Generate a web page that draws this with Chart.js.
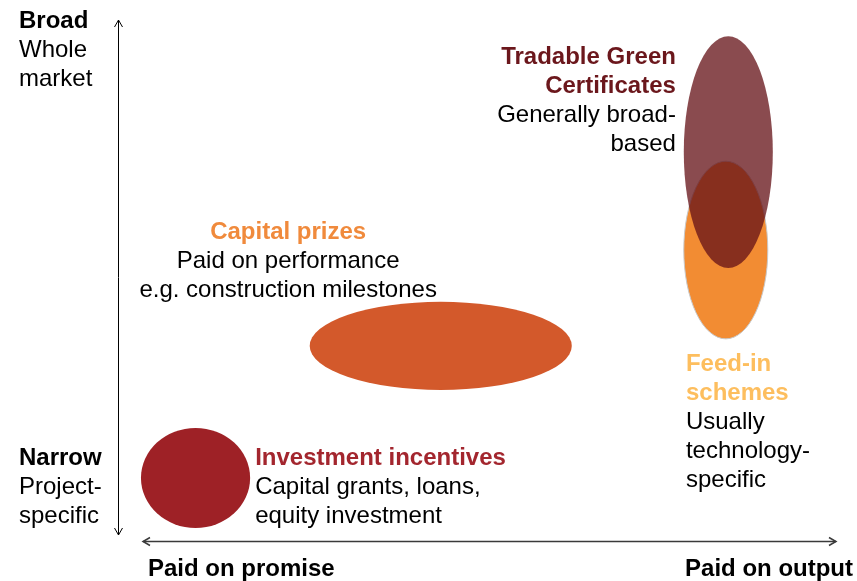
<!DOCTYPE html>
<html lang="en">
<head>
    <meta charset="UTF-8">
    <title>Support schemes - breadth vs payment basis</title>
    <script src="https://cdn.jsdelivr.net/npm/chart.js"></script>
    <style>
        body {
            margin: 0;
            background-color: #ffffff;
        }
        canvas {
            display: block;
        }
    </style>
</head>
<body>
    <canvas id="schemeChart" width="857" height="581"></canvas>

    <script>
        // Schemes, in drawing order (last one sits on top)
        const schemes = ['Investment incentives', 'Capital prizes', 'Feed-in schemes', 'Tradable Green Certificates'];
        // Payment basis range (0 = paid on promise, 100 = paid on output)
        const payFrom = [3.2, 26.7, 78.8, 78.8];
        const payTo = [18.4, 63.2, 90.5, 91.2];
        // Breadth range (0 = narrow / project-specific, 100 = broad / whole market)
        const breadthFrom = [2.5, 29.0, 38.8, 52.4];
        const breadthTo = [21.7, 45.9, 72.9, 96.9];

        // Label texts
        const titles = [['Investment incentives'], ['Capital prizes'], ['Feed-in', 'schemes'], ['Tradable Green', 'Certificates']];
        const notes = [
            ['Capital grants, loans,', 'equity investment'],
            ['Paid on performance', 'e.g. construction milestones'],
            ['Usually', 'technology-', 'specific'],
            ['Generally broad-', 'based']
        ];
        const axisLabels = {
            top: ['Broad', 'Whole', 'market'],
            bottom: ['Narrow', 'Project-', 'specific'],
            left: 'Paid on promise',
            right: 'Paid on output'
        };

        // Styles and label placement (kept apart from the data)
        const fillColors = ['#9e2126', '#d3592b', '#f28c33', 'rgba(101, 18, 24, 0.76)'];
        const edgeColors = [null, null, '#c8c8c8', null];
        const titleColors = ['#a3262e', '#f08a3c', '#fdbe5e', '#6b171c'];
        const labelSpots = [
            { x: 19.1, y: 14.6, align: 'left' },
            { x: 23.7, y: 58.0, align: 'center' },
            { x: 79.1, y: 32.6, align: 'left' },
            { x: 77.7, y: 91.6, align: 'right' }
        ];
        const FONT = '"Liberation Sans", Arial, sans-serif';
        const LINE = 29;

        function arrowHead(ctx, x, y, dx, dy) {
            // open chevron pointing along (dx, dy)
            const len = 7, half = 4;
            const px = -dy, py = dx;
            ctx.beginPath();
            ctx.moveTo(x - dx * len + px * half, y - dy * len + py * half);
            ctx.lineTo(x, y);
            ctx.lineTo(x - dx * len - px * half, y - dy * len - py * half);
            ctx.stroke();
        }

        const ellipsePlugin = {
            id: 'ellipsePlugin',
            afterDatasetsDraw: (chart) => {
                const ctx = chart.ctx;
                const xs = chart.scales.x;
                const ys = chart.scales.y;
                ctx.save();
                schemes.forEach((name, i) => {
                    const x1 = xs.getPixelForValue(payFrom[i]);
                    const x2 = xs.getPixelForValue(payTo[i]);
                    const y1 = ys.getPixelForValue(breadthTo[i]);
                    const y2 = ys.getPixelForValue(breadthFrom[i]);
                    ctx.beginPath();
                    ctx.ellipse((x1 + x2) / 2, (y1 + y2) / 2, (x2 - x1) / 2, (y2 - y1) / 2, 0, 0, Math.PI * 2);
                    ctx.fillStyle = fillColors[i];
                    ctx.fill();
                    if (edgeColors[i]) {
                        ctx.strokeStyle = edgeColors[i];
                        ctx.lineWidth = 1;
                        ctx.stroke();
                    }
                });
                ctx.restore();
            }
        };

        const labelPlugin = {
            id: 'labelPlugin',
            afterDraw: (chart) => {
                const ctx = chart.ctx;
                const xs = chart.scales.x;
                const ys = chart.scales.y;
                const area = chart.chartArea;
                ctx.save();
                ctx.textBaseline = 'alphabetic';

                // scheme labels: coloured bold title then black notes
                schemes.forEach((name, i) => {
                    const spot = labelSpots[i];
                    const x = xs.getPixelForValue(spot.x);
                    let y = ys.getPixelForValue(spot.y);
                    ctx.textAlign = spot.align;
                    ctx.font = 'bold 24px ' + FONT;
                    ctx.fillStyle = titleColors[i];
                    titles[i].forEach(t => { ctx.fillText(t, x, y); y += LINE; });
                    ctx.font = '24px ' + FONT;
                    ctx.fillStyle = '#000000';
                    notes[i].forEach(t => { ctx.fillText(t, x, y); y += LINE; });
                });

                // axis end labels
                ctx.textAlign = 'left';
                const drawStack = (lines, x, y) => {
                    lines.forEach((t, k) => {
                        ctx.font = (k === 0 ? 'bold ' : '') + '24px ' + FONT;
                        ctx.fillText(t, x, y + k * LINE);
                    });
                };
                drawStack(axisLabels.top, area.left - 99, area.top + 8);
                drawStack(axisLabels.bottom, area.left - 99, area.bottom - 76);
                ctx.font = 'bold 24px ' + FONT;
                ctx.fillText(axisLabels.left, area.left + 30, area.bottom + 35);
                ctx.textAlign = 'right';
                ctx.fillText(axisLabels.right, area.right + 17, area.bottom + 35);

                // vertical arrow (breadth)
                ctx.strokeStyle = '#000000';
                ctx.lineWidth = 1;
                const vx = Math.round(area.left) + 0.5;
                ctx.beginPath();
                ctx.moveTo(vx, area.top);
                ctx.lineTo(vx, area.bottom - 6);
                ctx.stroke();
                arrowHead(ctx, vx, area.top, 0, -1);
                arrowHead(ctx, vx, area.bottom - 6, 0, 1);

                // horizontal arrow (payment basis)
                ctx.strokeStyle = '#3a3a3a';
                ctx.lineWidth = 1.5;
                const hy = Math.round(area.bottom) + 0.5;
                ctx.beginPath();
                ctx.moveTo(area.left + 25, hy);
                ctx.lineTo(area.right, hy);
                ctx.stroke();
                arrowHead(ctx, area.left + 25, hy, -1, 0);
                arrowHead(ctx, area.right, hy, 1, 0);
                ctx.restore();
            }
        };

        Chart.register(ellipsePlugin, labelPlugin);

        const config = {
            type: 'scatter',
            data: {
                datasets: schemes.map((name, i) => ({
                    label: name,
                    data: [{ x: (payFrom[i] + payTo[i]) / 2, y: (breadthFrom[i] + breadthTo[i]) / 2 }],
                    pointRadius: 0,
                    backgroundColor: fillColors[i]
                }))
            },
            options: {
                responsive: false,
                animation: false,
                plugins: {
                    legend: { display: false },
                    tooltip: { enabled: false }
                },
                layout: {
                    padding: { left: 118, right: 21, top: 20, bottom: 40 }
                },
                scales: {
                    x: { type: 'linear', min: 0, max: 100, display: false },
                    y: { type: 'linear', min: 0, max: 100, display: false }
                }
            }
        };

        new Chart(document.getElementById('schemeChart'), config);
    </script>
</body>
</html>
